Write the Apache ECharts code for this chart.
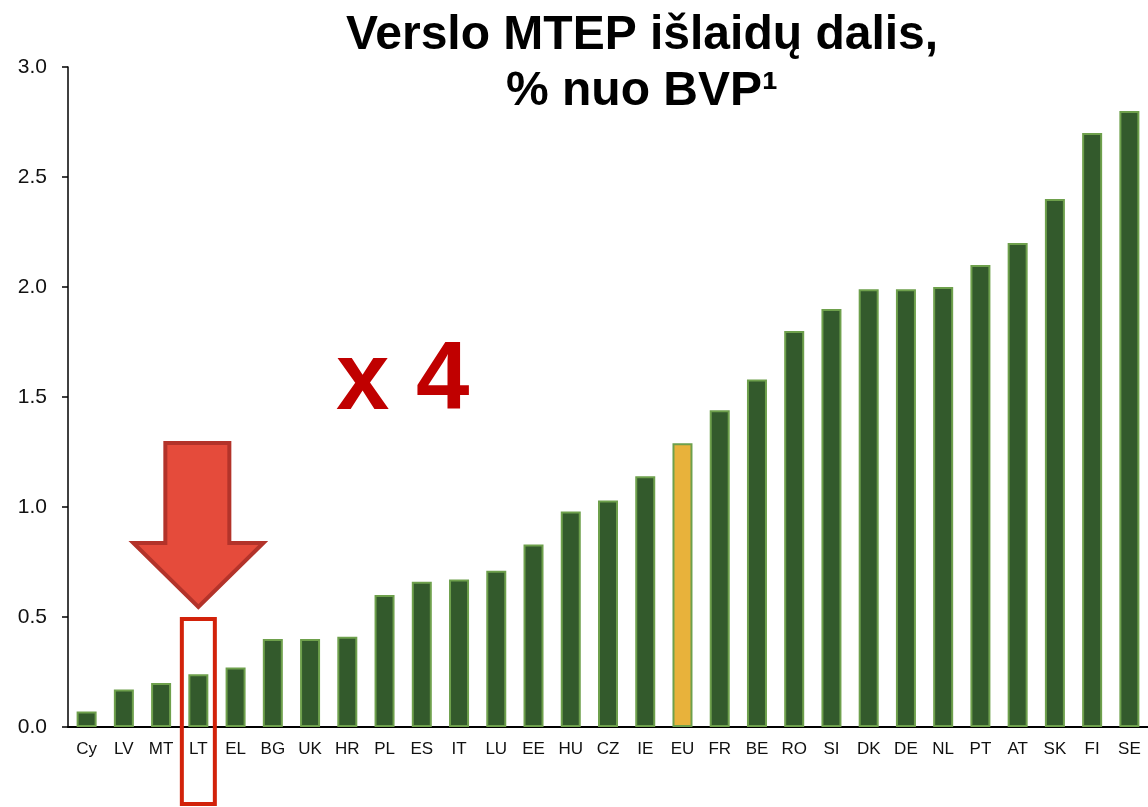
<!DOCTYPE html>
<html>
<head>
<meta charset="utf-8">
<script src="https://cdn.jsdelivr.net/npm/echarts@6/dist/echarts.min.js"></script>
<style>
  html, body { margin: 0; padding: 0; background: #fff; }
  #main { width: 1148px; height: 807px; }
</style>
</head>
<body>
<div id="main"></div>
<script>
// šalys ir reikšmės (% nuo BVP)
var countries = ["Cy", "LV", "MT", "LT", "EL", "BG", "UK", "HR", "PL", "ES", "IT", "LU", "EE", "HU",
  "CZ", "IE", "EU", "FR", "BE", "RO", "SI", "DK", "DE", "NL", "PT", "AT", "SK", "FI", "SE"];
var values = [0.07, 0.17, 0.2, 0.24, 0.27, 0.4, 0.4, 0.41, 0.6, 0.66, 0.67, 0.71, 0.83, 0.98,
  1.03, 1.14, 1.29, 1.44, 1.58, 1.8, 1.9, 1.99, 1.99, 2.0, 2.1, 2.2, 2.4, 2.7, 2.8];
var highlightCountry = "EU";
var markedCountry = "LT";

var GREEN = "#335a2c";
var GREEN_BORDER = "#6ea04c";
var GOLD = "#e8b23b";

var chart = echarts.init(document.getElementById("main"));

var barData = values.map(function (v, i) {
  return {
    value: v,
    itemStyle: { color: countries[i] === highlightCountry ? GOLD : GREEN }
  };
});

var option = {
  animation: false,
  title: {
    text: "Verslo MTEP išlaidų dalis,\n% nuo BVP¹",
    left: 637,
    textAlign: "center",
    top: 3,
    textStyle: {
      fontFamily: "Liberation Sans, Arial, sans-serif",
      fontWeight: "bold",
      fontSize: 48,
      lineHeight: 56,
      color: "#000"
    }
  },
  grid: { left: 68, right: -5.5, top: 67, bottom: 80, containLabel: false },
  xAxis: {
    type: "category",
    data: countries,
    axisLine: { show: true, lineStyle: { color: "#000", width: 2 } },
    axisTick: { show: false },
    axisLabel: {
      interval: 0,
      margin: 14,
      fontSize: 17,
      color: "#111",
      fontFamily: "Liberation Sans, Arial, sans-serif"
    }
  },
  yAxis: {
    type: "value",
    min: 0,
    max: 3,
    interval: 0.5,
    axisLine: { show: true, lineStyle: { color: "#000", width: 1.5 } },
    axisTick: { show: true, length: 6, lineStyle: { color: "#000", width: 1.5 } },
    splitLine: { show: false },
    axisLabel: {
      margin: 21,
      fontSize: 21,
      color: "#111",
      fontFamily: "Liberation Sans, Arial, sans-serif",
      formatter: function (v) { return v.toFixed(1); }
    }
  },
  series: [
    {
      type: "bar",
      data: barData,
      barWidth: 20,
      itemStyle: { borderColor: GREEN_BORDER, borderWidth: 2 }
    }
  ]
};
chart.setOption(option);

// anotacijos: rodyklė, rėmelis apie LT ir "x 4"
var p = chart.convertToPixel({ xAxisIndex: 0 }, markedCountry);
var base = chart.convertToPixel({ yAxisIndex: 0 }, 0);
chart.setOption({
  graphic: [
    {
      type: "polygon",
      shape: {
        points: [
          [p - 33, 443], [p + 31, 443], [p + 31, 543], [p + 65, 543],
          [p, 607], [p - 65, 543], [p - 33, 543]
        ]
      },
      style: { fill: "#e54b3b", stroke: "#b3332a", lineWidth: 4 },
      z: 100
    },
    {
      type: "rect",
      shape: { x: p - 16.5, y: base - 108, width: 33, height: 185 },
      style: { fill: "none", stroke: "#d2220a", lineWidth: 4 },
      z: 100
    },
    {
      type: "text",
      left: 336,
      top: 335,
      style: {
        text: "x 4",
        fill: "#c00000",
        font: "bold 96px 'Liberation Sans', Arial, sans-serif"
      },
      z: 100
    }
  ]
});
</script>
</body>
</html>
